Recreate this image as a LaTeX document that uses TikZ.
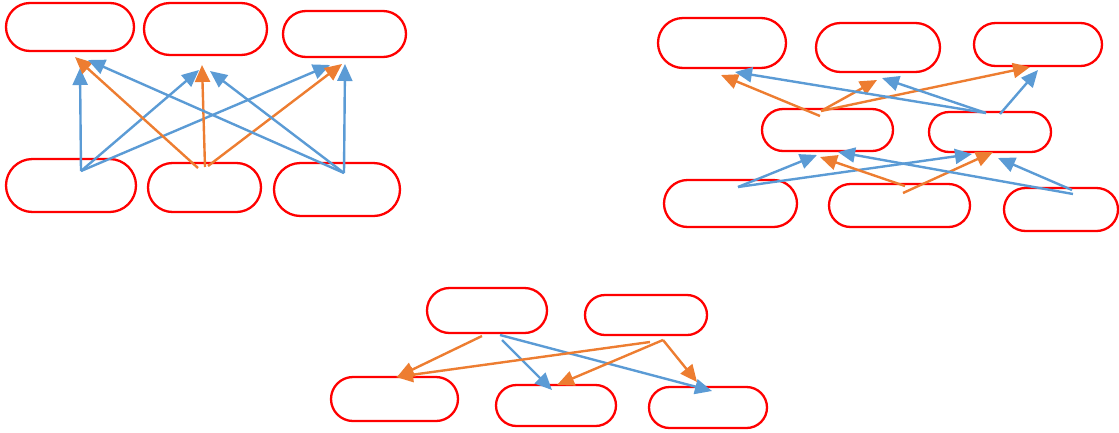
\documentclass[tikz,border=0pt]{standalone}
\usetikzlibrary{arrows.meta,shapes.misc}
\definecolor{boxred}{HTML}{FF0000}
\definecolor{ablue}{HTML}{5B9BD5}
\definecolor{aorange}{HTML}{ED7D31}
\tikzset{
  box/.style={rounded rectangle, draw=boxred, line width=2.3pt, inner sep=0pt},
  barrow/.style={draw=ablue, line width=2.4pt, -{Triangle[length=17pt,width=15pt]}},
  oarrow/.style={draw=aorange, line width=2.4pt, -{Triangle[length=17pt,width=15pt]}}
}
\begin{document}
\begin{tikzpicture}[x=1pt,y=-1pt]
\useasboundingbox (0,0) rectangle (1119,432);
% group 1
\node[box, minimum width=128, minimum height=48] (A1) at (70,27) {};
\node[box, minimum width=123, minimum height=52] (A2) at (205.5,29) {};
\node[box, minimum width=123, minimum height=46] (A3) at (344.5,34) {};
\node[box, minimum width=130, minimum height=53] (B1) at (71,185.5) {};
\node[box, minimum width=113, minimum height=49] (B2) at (204.5,187.5) {};
\node[box, minimum width=126, minimum height=53] (B3) at (337,189.5) {};
% group 2
\node[box, minimum width=128, minimum height=50] (C1) at (722,43) {};
\node[box, minimum width=124, minimum height=49] (C2) at (878,47.5) {};
\node[box, minimum width=128, minimum height=43] (C3) at (1038,44.5) {};
\node[box, minimum width=131, minimum height=42] (D1) at (827.5,130) {};
\node[box, minimum width=122, minimum height=40] (D2) at (990,132) {};
\node[box, minimum width=133, minimum height=47] (E1) at (730.5,203.5) {};
\node[box, minimum width=141, minimum height=43] (E2) at (899.5,205.5) {};
\node[box, minimum width=114, minimum height=43] (E3) at (1061,209.5) {};
% group 3
\node[box, minimum width=120, minimum height=45] (F1) at (487,310.5) {};
\node[box, minimum width=122, minimum height=40] (F2) at (646,315) {};
\node[box, minimum width=127, minimum height=44] (G1) at (394.5,399) {};
\node[box, minimum width=120, minimum height=41] (G2) at (556,405.5) {};
\node[box, minimum width=118, minimum height=41] (G3) at (708,407.5) {};
% connector end points
\coordinate (b1s) at (81,171);
\coordinate (b2sa) at (198,168);
\coordinate (b2sb) at (205,167);
\coordinate (b2sc) at (208,166);
\coordinate (b3s) at (344,173);
\coordinate (a1o) at (75,57);
\coordinate (a1b) at (88,60);
\coordinate (a1v) at (80,68);
\coordinate (a2b) at (199,70);
\coordinate (a2o) at (202,65);
\coordinate (a2c) at (210,71);
\coordinate (a3b) at (330,65);
\coordinate (a3o) at (342,64);
\coordinate (a3v) at (345,64);
\coordinate (d1s) at (820,116);
\coordinate (d1t) at (821,111);
\coordinate (d2sa) at (986,113);
\coordinate (d2sb) at (1000,114);
\coordinate (c1o) at (721,75);
\coordinate (c1b) at (735,72);
\coordinate (c2o) at (877,80);
\coordinate (c2b) at (882,78);
\coordinate (c3o) at (1030,67);
\coordinate (c3b) at (1038,70);
\coordinate (e1s) at (738,187);
\coordinate (e2sa) at (905,186);
\coordinate (e2sb) at (903,193);
\coordinate (e3sa) at (1073,194);
\coordinate (e3sb) at (1072,190);
\coordinate (d1b) at (817,155);
\coordinate (d1o) at (820,157);
\coordinate (d1c) at (838,152);
\coordinate (d2b) at (972,154);
\coordinate (d2o) at (993,152);
\coordinate (d2c) at (998,158);
\coordinate (f1sa) at (482,336);
\coordinate (f1sb) at (502,340);
\coordinate (f1sc) at (500,335);
\coordinate (f2sa) at (650,342);
\coordinate (f2sb) at (663,340);
\coordinate (g1o) at (397,377);
\coordinate (g1p) at (396,377);
\coordinate (g2b) at (552,390);
\coordinate (g2o) at (557,385);
\coordinate (g3b) at (712,391);
\coordinate (g3o) at (697,382);
% group 1 connectors
\draw[barrow] (b1s) -- (a1v);
\draw[barrow] (b1s) -- (a2b);
\draw[barrow] (b1s) -- (a3b);
\draw[oarrow] (b2sa) -- (a1o);
\draw[oarrow] (b2sb) -- (a2o);
\draw[oarrow] (b2sc) -- (a3o);
\draw[barrow] (b3s) -- (a1b);
\draw[barrow] (b3s) -- (a2c);
\draw[barrow] (b3s) -- (a3v);
% group 2 connectors
\draw[oarrow] (d1s) -- (c1o);
\draw[oarrow] (d1t) -- (c2o);
\draw[oarrow] (d1t) -- (c3o);
\draw[barrow] (d2sa) -- (c1b);
\draw[barrow] (d2sa) -- (c2b);
\draw[barrow] (d2sb) -- (c3b);
\draw[barrow] (e1s) -- (d1b);
\draw[barrow] (e1s) -- (d2b);
\draw[oarrow] (e2sa) -- (d1o);
\draw[oarrow] (e2sb) -- (d2o);
\draw[barrow] (e3sa) -- (d1c);
\draw[barrow] (e3sb) -- (d2c);
% group 3 connectors
\draw[oarrow] (f1sa) -- (g1o);
\draw[barrow] (f1sb) -- (g2b);
\draw[barrow] (f1sc) -- (g3b);
\draw[oarrow] (f2sa) -- (g1p);
\draw[oarrow] (f2sb) -- (g2o);
\draw[oarrow] (f2sb) -- (g3o);
\end{tikzpicture}
\end{document}
